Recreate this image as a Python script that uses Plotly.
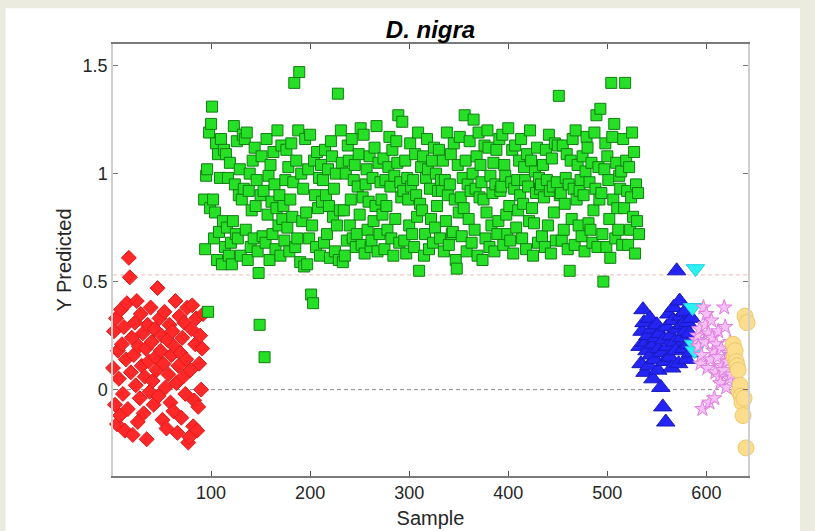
import plotly.graph_objects as go

# ---------------- data ----------------
title_text = "D. nigra"
x_label = "Sample"
y_label = "Y Predicted"
x_ticks = [100, 200, 300, 400, 500, 600]
y_ticks = [0, 0.5, 1, 1.5]
y_tick_labels = ["0", "0.5", "1", "1.5"]
x_limits = [1, 642]
y_limits = [-0.4, 1.6]
zero_level = 0
threshold_level = 0.531

red_start = 1
red_y = [0.10, 0.27, -0.07, 0.33, -0.16, 0.18, 0.05, -0.12, 0.37, 0.21,
         -0.02, 0.29, -0.19, 0.14, 0.40, -0.09, 0.61, 0.52, 0.08, 0.24,
         -0.21, 0.16, 0.31, 0.02, 0.41, -0.15, 0.20, -0.04, 0.35, 0.11,
         0.26, -0.11, 0.06, 0.19, -0.23, 0.30, 0.13, -0.01, 0.38, 0.22,
         0.04, -0.07, 0.28, 0.15, 0.09, 0.47, -0.03, 0.33, 0.18, 0.25,
         -0.14, 0.12, 0.36, 0.01, -0.18, 0.23, 0.07, 0.30, -0.06, 0.16,
         0.27, -0.10, 0.20, 0.41, 0.03, -0.20, 0.11, 0.34, 0.17, -0.13,
         0.24, 0.06, 0.31, -0.02, 0.14, 0.38, -0.245, -0.22, 0.09, 0.28,
         0.39, -0.17, -0.05, 0.21, 0.33, -0.19, -0.08, 0.12, 0.25, 0.00,
         0.19, 0.35]

green_start = 93
green_y = [
    0.88, 0.65, 0.99, 1.02, 0.36, 1.19, 0.84, 1.23, 1.31, 0.88, 0.70, 0.82, 1.14, 0.60, 1.09, 0.73, 0.98, 1.16, 0.58, 0.78,
    1.11, 0.66, 1.09, 0.75, 0.98, 0.62, 1.05, 0.68, 0.58, 0.78, 1.22, 0.95, 0.72, 1.15, 0.70, 0.90, 1.02, 0.62, 0.88, 1.18,
    0.93, 1.16, 0.74, 1.19, 0.60, 0.92, 1.00, 0.66, 0.83, 1.06, 0.70, 1.12, 0.85, 0.97, 0.64, 0.54, 0.30, 0.90, 1.08, 0.71,
    0.92, 0.15, 0.68, 1.16, 0.81, 0.99, 0.60, 1.04, 0.87, 0.72, 1.10, 0.95, 0.65, 0.84, 1.20, 0.76, 0.90, 0.62, 1.13, 0.79,
    0.85, 0.69, 0.97, 1.11, 0.75, 1.03, 0.64, 0.88, 1.14, 0.80, 0.96, 1.42, 0.66, 1.06, 0.70, 1.20, 1.47, 0.59, 1.00, 0.78,
    0.93, 0.57, 1.16, 0.82, 0.58, 1.02, 0.70, 1.18, 0.44, 0.76, 0.40, 1.06, 0.90, 0.66, 1.10, 0.84, 0.98, 0.62, 1.04, 0.87,
    0.97, 0.68, 1.11, 0.90, 0.72, 1.02, 0.85, 0.61, 1.15, 1.08, 0.80, 0.93, 0.64, 1.00, 0.76, 1.37, 0.60, 0.83, 1.20, 1.05,
    0.59, 0.83, 0.62, 1.00, 0.69, 1.13, 1.06, 0.76, 0.88, 1.16, 0.70, 0.97, 1.04, 0.66, 0.72, 0.94, 1.09, 0.81, 1.21, 0.67,
    0.89, 1.18, 0.63, 0.95, 1.02, 0.74, 0.87, 1.08, 0.66, 0.69, 0.98, 0.78, 1.12, 0.85, 1.22, 0.64, 1.05, 0.72, 0.96, 0.88,
    0.81, 1.07, 0.65, 0.97, 0.85, 0.74, 1.03, 1.17, 0.94, 0.70, 1.11, 0.62, 0.99, 0.79, 1.15, 1.05, 1.27, 0.68, 0.96, 0.89,
    1.24, 0.92, 0.69, 1.06, 0.63, 0.98, 0.88, 0.76, 1.14, 0.94, 0.72, 0.97, 0.66, 1.09, 0.90, 0.80, 1.19, 0.55, 0.86, 1.03,
    0.83, 1.08, 0.62, 0.72, 0.98, 1.16, 1.02, 0.65, 0.93, 0.79, 1.06, 0.68, 1.12, 0.75, 1.00, 0.85, 0.92, 1.11, 0.70, 0.97,
    0.92, 1.06, 0.64, 0.97, 0.78, 1.19, 0.90, 0.67, 0.95, 1.09, 0.72, 0.73, 1.14, 0.88, 0.60, 0.56, 1.04, 0.82, 1.17, 0.89,
    0.71, 0.98, 0.84, 1.27, 1.06, 0.64, 0.95, 0.79, 1.15, 0.92, 0.68, 1.00, 1.25, 0.74, 0.93, 1.08, 0.62, 1.19, 0.89, 1.04,
    0.96, 0.60, 0.88, 1.13, 0.70, 0.82, 1.20, 1.12, 0.66, 0.99, 0.76, 0.91, 1.05, 0.64, 0.95, 1.11, 0.72, 0.78, 1.16, 0.92,
    0.94, 1.18, 0.67, 1.04, 0.99, 0.81, 0.72, 1.21, 0.85, 0.69, 0.96, 1.11, 0.63, 0.93, 1.13, 0.75, 0.97, 0.83, 1.06, 0.90,
    1.16, 0.70, 0.86, 1.03, 0.97, 0.65, 1.09, 0.94, 0.78, 1.20, 1.06, 0.84, 0.62, 0.77, 1.01, 0.91, 1.12, 0.68, 0.98, 0.93,
    0.95, 0.71, 1.04, 0.89, 0.66, 1.11, 0.97, 0.76, 1.18, 0.92, 0.63, 1.07, 0.94, 0.82, 1.14, 0.69, 0.96, 1.13, 1.36, 0.90,
    0.91, 0.69, 1.13, 0.74, 0.86, 0.98, 1.09, 0.65, 0.95, 0.55, 1.06, 0.79, 1.16, 0.93, 0.67, 1.20, 0.88, 1.04, 0.76, 0.92,
    0.97, 0.71, 1.08, 0.90, 0.64, 1.01, 1.17, 1.12, 0.77, 0.96, 0.74, 1.05, 0.68, 0.83, 1.19, 0.93, 1.27, 0.66, 1.03, 0.88,
    1.30, 0.91, 0.72, 0.50, 1.02, 1.14, 0.66, 1.08, 0.97, 0.79, 0.61, 1.42, 1.17, 0.88, 1.23, 0.70, 1.05, 0.84, 0.74, 0.99,
    0.93, 1.01, 0.67, 1.16, 0.84, 1.42, 1.06, 0.92, 0.67, 1.03, 0.74, 0.89, 1.19, 0.80, 1.10, 0.63, 0.95, 0.78, 0.91, 0.72,
]

blue_start = 533
blue_y = [0.20, 0.12, 0.27, 0.37, 0.31, 0.08, 0.22, 0.18, 0.25, 0.11,
          0.33, 0.16, 0.28, 0.05, 0.21, 0.14, 0.24, 0.30, 0.09, 0.19,
          0.26, 0.01, 0.17, -0.08, 0.23, 0.13, -0.15, 0.29, 0.20, 0.35,
          0.15, 0.25, 0.10, 0.32, 0.38, 0.22, 0.18, 0.55, 0.28, 0.12,
          0.41, 0.34, 0.24, 0.30, 0.19, 0.36, 0.27, 0.14, 0.31, 0.21,
          0.26, 0.17, 0.33]

cyan_start = 586
cyan_y = [0.38, 0.21, 0.18, 0.56]

pink_start = 590
pink_y = [0.23, 0.25, 0.20, 0.28, 0.12, 0.16, -0.09, 0.38, 0.22, 0.30,
          0.35, 0.10, 0.26, -0.06, 0.14, 0.32, 0.24, 0.18, -0.04, 0.08,
          0.21, 0.15, 0.27, 0.06, 0.03, 0.19, 0.11, 0.09, 0.38, 0.29,
          0.01, 0.13, 0.17, 0.05, 0.22, 0.07, 0.16]

yellow_start = 627
yellow_y = [0.21, 0.15, 0.18, 0.13, 0.11, 0.09, -0.01, 0.02, -0.03, -0.06,
            -0.12, -0.04, 0.34, -0.27, 0.31]


def samples(start, ys):
    return list(range(start, start + len(ys)))


series = [
    (red_start, red_y, "diamond", 11.5, "rgb(255,40,40)", "rgb(220,25,25)"),
    (green_start, green_y, "square", 11, "rgb(38,224,38)", "rgb(18,125,18)"),
    (blue_start, blue_y, "triangle-up", 16, "rgb(36,36,245)", "rgb(25,25,185)"),
    (cyan_start, cyan_y, "triangle-down", 16, "rgb(40,242,242)", "rgb(40,205,225)"),
    (pink_start, pink_y, "star", 11.5, "rgb(246,192,246)", "rgb(222,125,222)"),
    (yellow_start, yellow_y, "circle", 16, "rgb(251,221,140)", "rgb(236,200,110)"),
]

font_family = "Liberation Sans, Arial, sans-serif"
text_color = "#262626"
page_color = "#ecebe0"

fig = go.Figure()

# reference lines (drawn first so markers sit on top)
fig.add_trace(go.Scatter(
    x=x_limits, y=[zero_level, zero_level], mode="lines", cliponaxis=True,
    line=dict(color="#8f8f8f", width=1, dash="4px,3px"),
    showlegend=False, hoverinfo="skip"))
fig.add_trace(go.Scatter(
    x=x_limits, y=[threshold_level, threshold_level], mode="lines",
    cliponaxis=True,
    line=dict(color="rgba(238,160,160,0.7)", width=1, dash="4px,3px"),
    showlegend=False, hoverinfo="skip"))

for start, ys, sym, size, fill, edge in series:
    fig.add_trace(go.Scatter(
        x=samples(start, ys), y=ys, mode="markers", cliponaxis=False,
        marker=dict(symbol=sym, size=size, color=fill,
                    line=dict(color=edge, width=1)),
        showlegend=False, hoverinfo="x+y"))

# white figure panel on beige page
fig.add_shape(type="rect", xref="paper", yref="paper",
              x0=-0.169, x1=1.082, y0=-0.3, y1=1.083, layer="below",
              line=dict(width=0), fillcolor="white")

fig.update_layout(
    width=815, height=531,
    margin=dict(l=113, r=67, t=44, b=55),
    paper_bgcolor=page_color, plot_bgcolor="white",
    font=dict(family=font_family, color=text_color, size=18),
    title=dict(text="<b><i>" + title_text + "</i></b>", x=0.5, xref="paper",
               y=1 - 30 / 531, yref="container", yanchor="middle",
               font=dict(size=24, color="black")),
)
fig.update_xaxes(range=x_limits, tickvals=x_ticks, ticks="inside", ticklen=5,
                 tickcolor="#555", showline=True, linecolor="#7a7a7a",
                 linewidth=1.5, mirror="ticks", showgrid=False, zeroline=False,
                 automargin=False,
                 tickfont=dict(size=18, color=text_color),
                 title=dict(text=x_label, font=dict(size=20, color=text_color),
                            standoff=9))
fig.update_yaxes(range=y_limits, tickvals=y_ticks, ticktext=y_tick_labels,
                 ticks="inside", ticklen=5, tickcolor="#777", showline=True,
                 linecolor="#cfcfcf", linewidth=1.5, mirror="ticks",
                 showgrid=False, zeroline=False, automargin=False,
                 tickfont=dict(size=18, color=text_color),
                 title=dict(text=y_label, font=dict(size=20, color=text_color),
                            standoff=6))

fig.write_html(
    "out.html",
    config={"displayModeBar": False},
    post_script="document.body.style.margin='0';"
                "document.body.style.background='" + page_color + "';",
)
